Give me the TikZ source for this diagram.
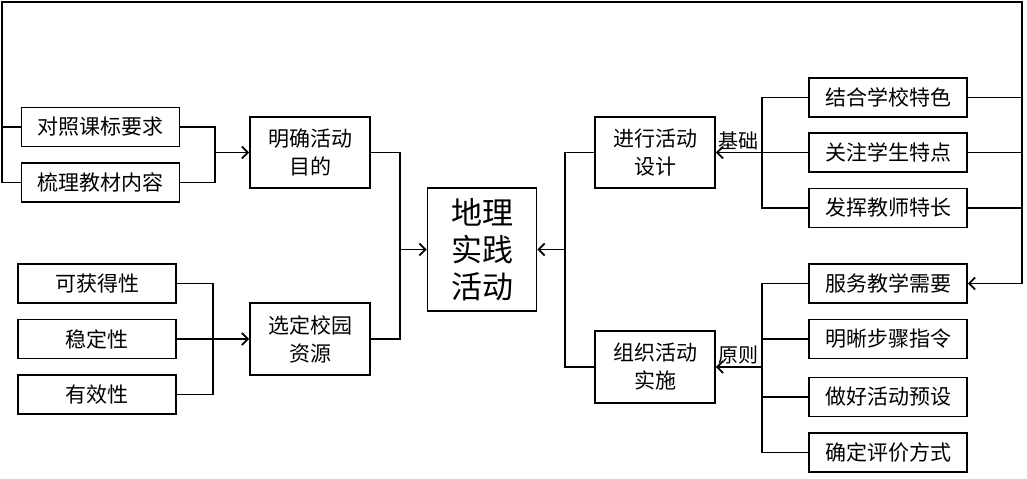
\documentclass[tikz,border=0pt]{standalone}
\usepackage{fontspec}
\setmainfont{Noto Sans CJK SC}
\usetikzlibrary{arrows.meta}
\begin{document}
\begin{tikzpicture}[x=0.5pt,y=-0.5pt,line width=0.9pt,
  >={Straight Barb[length=3pt,width=6pt]},
  box/.style={draw,inner sep=0pt,minimum width=79pt,minimum height=19.5pt,font=\fontsize{10.5}{14}\selectfont},
  mid/.style={draw,inner sep=0pt,minimum width=60pt,minimum height=35.5pt,align=center,font=\fontsize{10.5}{14}\selectfont},
  tag/.style={inner sep=1pt,font=\fontsize{10}{12}\selectfont}]
\useasboundingbox (0,0) rectangle (1027,478);
\node[box] (m1) at (100.5,127) {对照课标要求};
\node[box] (m2) at (100.5,182.5) {梳理教材内容};
\node[mid] (goal) at (310,152.5) {明确活动\\目的};
\node[box] (r1) at (97,283.5) {可获得性};
\node[box] (r2) at (97,339) {稳定性};
\node[box] (r3) at (97,394.5) {有效性};
\node[mid,minimum height=36pt] (res) at (310,339) {选定校园\\资源};
\node[draw,inner sep=0pt,minimum width=54.5pt,minimum height=61.5pt,align=center,
  font=\fontsize{15.5}{18.5}\selectfont] (core) at (482,249.5) {地理\\实践\\活动};
\node[mid] (design) at (655,152.5) {进行活动\\设计};
\node[mid,minimum height=36pt] (org) at (655,367) {组织活动\\实施};
\node[box] (d1) at (888,97.5) {结合学校特色};
\node[box] (d2) at (888,152.5) {关注学生特点};
\node[box] (d3) at (888,208) {发挥教师特长};
\node[box] (o1) at (888,283.5) {服务教学需要};
\node[box] (o2) at (888,339) {明晰步骤指令};
\node[box] (o3) at (888,397) {做好活动预设};
\node[box] (o4) at (888,452.5) {确定评价方式};
\coordinate (jm) at (215,152.5);
\coordinate (jr) at (213,339);
\coordinate (jl) at (400,249.5);
\coordinate (jc) at (565,249.5);
\coordinate (jd) at (762,152.5);
\coordinate (jo) at (762,367);
\coordinate (tl) at (2,2);
\coordinate (tr) at (1022,2);
\draw (m1.east) -| (jm);
\draw (m2.east) -| (jm);
\draw[->] (jm) -- (goal.west);
\draw (r1.east) -| (jr);
\draw (r3.east) -| (jr);
\draw[->] (r2.east) -- (res.west);
\draw (goal.east) -| (jl);
\draw (res.east) -| (jl);
\draw[->] (jl) -- (core.west);
\draw (design.west) -| (jc);
\draw (org.west) -| (jc);
\draw[->] (jc) -- (core.east);
\draw (d1.west) -| (jd);
\draw (d3.west) -| (jd);
\draw[->] (d2.west) -- (design.east) node[tag,above right] {基础};
\draw (o1.west) -| (jo);
\draw (o4.west) -| (jo);
\draw (o2.west) -- (o2.west -| jo);
\draw (o3.west) -- (o3.west -| jo);
\draw[->] (jo) -- (org.east) node[tag,above right] {原则};
\draw (m1.west) -- (m1.west -| tl);
\draw[->] (m2.west) -| (tl) -- (tr) |- (o1.east);
\draw (d1.east) -- (d1.east -| tr);
\draw (d2.east) -- (d2.east -| tr);
\draw (d3.east) -- (d3.east -| tr);
\end{tikzpicture}
\end{document}
